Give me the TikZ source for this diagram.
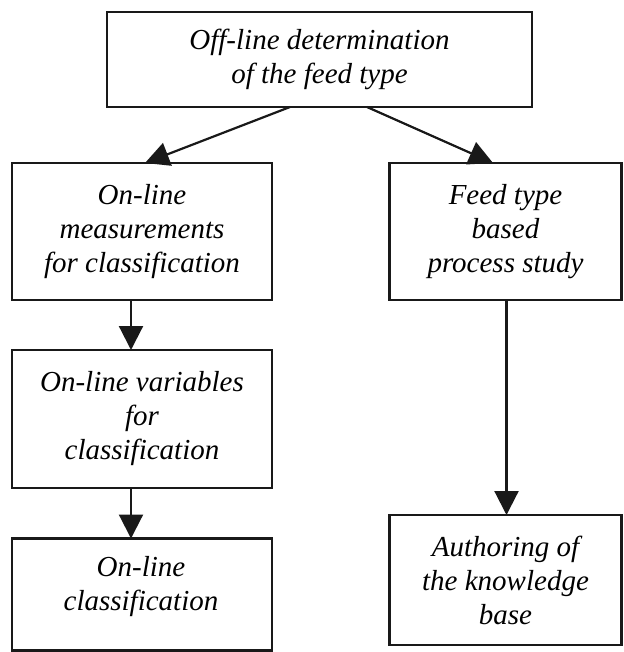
\documentclass[tikz,border=0pt]{standalone}
\usepackage{fontspec}
\setmainfont{Liberation Serif}
\usetikzlibrary{arrows.meta}
\begin{document}
\begin{tikzpicture}[x=1pt,y=-1pt,
  box/.style={draw=black!90, line width=2.2pt, rectangle, inner sep=0pt, outer sep=0pt,
    align=center, font=\fontsize{29}{34}\selectfont\itshape},
  lbl/.style={align=center, inner sep=0pt, font=\fontsize{29}{34}\selectfont\itshape},
  conn/.style={draw=black!90, line width=2.2pt, -{Triangle[length=24pt,width=24pt]}}]
\useasboundingbox (0,0) rectangle (623,652);
\node[box, minimum width=425pt, minimum height=95pt] (top) at (319.5,59.5)
  {Off-line determination\\of the feed type};
\node[box, minimum width=260pt, minimum height=137pt] (L1) at (142,231.5)
  {On-line\\measurements\\for classification};
\node[box, minimum width=260pt, minimum height=138pt] (L2) at (142,419)
  {On-line variables\\for\\classification};
\node[box, minimum width=260pt, minimum height=112pt] (L3) at (142,594.5) {};
\node[lbl] (L3t) at (141,587) {On-line\\classification};
\node[box, minimum width=232pt, minimum height=130pt] (R2) at (505.5,580)
  {Authoring of\\the knowledge\\base};
\node[box, minimum width=232pt, minimum height=137pt] (R1) at (505.5,231.5)
  {Feed type\\based\\process study};
\draw[conn] ([xshift=-29.5pt]top.south) -- ([xshift=3pt]L1.north);
\draw[conn] ([xshift=47.5pt]top.south) -- ([xshift=-12.5pt]R1.north);
\draw[conn] ([xshift=-11pt]L1.south) -- ([xshift=-11pt]L2.north);
\draw[conn] ([xshift=-11pt]L2.south) -- ([xshift=-11pt]L3.north);
\draw[conn] ([xshift=1pt]R1.south) -- ([xshift=1pt]R2.north);
\end{tikzpicture}
\end{document}
